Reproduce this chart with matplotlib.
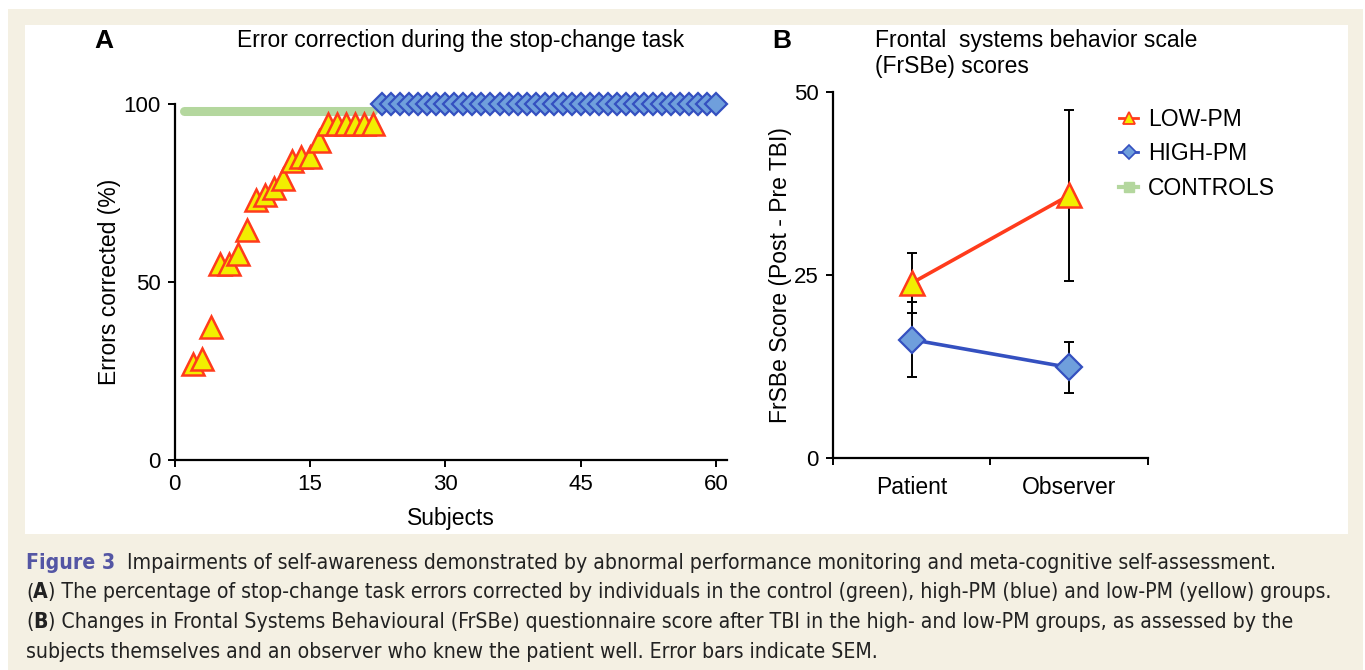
import matplotlib
matplotlib.use("Agg")
import matplotlib.pyplot as plt
from matplotlib.lines import Line2D
from matplotlib.patches import Rectangle

plt.rcParams['font.family'] = ['Liberation Sans', 'DejaVu Sans']

W, H = 1365, 670

# ---- panel A: error correction per subject ----
low_x = list(range(2, 23))
low_y = [27, 28.5, 37.5, 55, 55, 58, 64.5, 73, 74.5, 76.5, 79,
         84, 85, 85, 89.5, 94.5, 94.5, 94.5, 94.5, 94.5, 94.5]

high_x = list(range(23, 61))
high_y = [100, 100, 100, 100, 100, 100, 100, 100, 100, 100,
          100, 100, 100, 100, 100, 100, 100, 100, 100, 100,
          100, 100, 100, 100, 100, 100, 100, 100, 100, 100,
          100, 100, 100, 100, 100, 100, 100, 100]

ctrl_x = list(range(1, 23))
ctrl_y = [98, 98, 98, 98, 98, 98, 98, 98, 98, 98, 98,
          98, 98, 98, 98, 98, 98, 98, 98, 98, 98, 98]

# ---- panel B: FrSBe change scores ----
conditions = ['Patient', 'Observer']
low_mean = [23.9, 35.9]
low_sem = [4.1, 11.7]
high_mean = [16.2, 12.4]
high_sem = [5.1, 3.5]

RED = '#ff3b1c'
YELLOW = '#f2ee00'
BLUE_EDGE = '#3450c0'
BLUE_FACE = '#6f9fdc'
GREEN = '#b4d79e'


def fx(px):
    return px / W


def fy(py):
    return 1 - py / H


fig = plt.figure(figsize=(W / 100, H / 100), dpi=100, facecolor='white')
fig.patches.append(Rectangle((fx(8), 0), fx(1363) - fx(8), fy(9), transform=fig.transFigure,
                             facecolor='#f4f0e3', edgecolor='none', zorder=-10))
fig.patches.append(Rectangle((fx(25), fy(534)), fx(1348) - fx(25), fy(25) - fy(534),
                             transform=fig.transFigure, facecolor='white', edgecolor='none', zorder=-9))

# ========== A ==========
axA = fig.add_axes([fx(174.5), fy(460), fx(727) - fx(174.5), fy(104) - fy(460)])
axA.set_facecolor('none')
axA.plot(ctrl_x, ctrl_y, color=GREEN, lw=6.5, solid_capstyle='round', zorder=2, clip_on=False)
axA.plot(high_x, high_y, ls='none', marker='D', ms=11.5, mfc=BLUE_FACE, mec=BLUE_EDGE,
         mew=1.6, zorder=3, clip_on=False)
axA.plot(low_x, low_y, ls='none', marker='^', ms=15.5, mfc=YELLOW, mec=RED,
         mew=1.8, zorder=4, clip_on=False)
axA.set_xlim(0, 61.2)
axA.set_ylim(0, 100)
axA.set_xticks([0, 15, 30, 45, 60])
axA.set_yticks([0, 50, 100])
axA.set_xlabel('Subjects', fontsize=16.5, labelpad=9)
axA.set_ylabel('Errors corrected (%)', fontsize=16.5, labelpad=1.5)

# ========== B ==========
axB = fig.add_axes([fx(832.7), fy(458.3), fx(1148) - fx(832.7), fy(92) - fy(458.3)])
axB.set_facecolor('none')
xpos = [0.5, 1.5]
axB.errorbar(xpos, low_mean, yerr=low_sem, fmt='none', ecolor='black', elinewidth=1.4,
             capsize=3.5, capthick=1.4, zorder=2)
axB.errorbar(xpos, high_mean, yerr=high_sem, fmt='none', ecolor='black', elinewidth=1.4,
             capsize=3.5, capthick=1.4, zorder=2)
axB.plot(xpos, low_mean, color=RED, lw=2.6, marker='^', ms=17, mfc=YELLOW, mec=RED,
         mew=1.8, zorder=4)
axB.plot(xpos, high_mean, color=BLUE_EDGE, lw=2.6, marker='D', ms=13, mfc=BLUE_FACE,
         mec=BLUE_EDGE, mew=1.6, zorder=3)
axB.set_xlim(0, 2)
axB.set_ylim(0, 50)
axB.set_yticks([0, 25, 50])
axB.set_xticks([0, 1, 2])
axB.set_xticklabels([])
axB.set_xticks(xpos, minor=True)
axB.set_xticklabels(conditions, minor=True)
axB.tick_params(axis='x', which='minor', length=0, pad=13, labelsize=16.5)
axB.set_ylabel('FrSBe Score (Post - Pre TBI)', fontsize=16.5, labelpad=1.5)

for ax in (axA, axB):
    for s in ('top', 'right'):
        ax.spines[s].set_visible(False)
    for s in ('left', 'bottom'):
        ax.spines[s].set_linewidth(1.6)
    ax.tick_params(which='major', direction='out', length=5, width=1.4, labelsize=16, pad=5)

handles = [
    Line2D([], [], color=RED, lw=2, marker='^', ms=9, mfc=YELLOW, mec=RED, mew=1.3),
    Line2D([], [], color=BLUE_EDGE, lw=2, marker='D', ms=7, mfc=BLUE_FACE, mec=BLUE_EDGE, mew=1.2),
    Line2D([], [], color=GREEN, lw=3, marker='s', ms=7, mfc=GREEN, mec=GREEN),
]
fig.legend(handles, ['LOW-PM', 'HIGH-PM', 'CONTROLS'], loc='upper left',
           bbox_to_anchor=(fx(1119), fy(108)), frameon=False, fontsize=16.5,
           handlelength=0.85, handletextpad=0.4, labelspacing=0.5, borderpad=0, borderaxespad=0)

# panel titles
fig.text(fx(94), fy(41), 'A', fontsize=19, fontweight='bold', va='center', ha='left')
fig.text(fx(237), fy(40), 'Error correction during the stop-change task', fontsize=16.5,
         va='center', ha='left')
fig.text(fx(772), fy(41), 'B', fontsize=19, fontweight='bold', va='center', ha='left')
fig.text(fx(875), fy(40), 'Frontal  systems behavior scale', fontsize=16.5, va='center', ha='left')
fig.text(fx(875), fy(66.5), '(FrSBe) scores', fontsize=16.5, va='center', ha='left')

# ========== caption ==========
cap_font = ['DejaVu Sans', 'Roboto']
renderer = fig.canvas.get_renderer()
line2 = ('(A) The percentage of stop-change task errors corrected by individuals in the '
         'control (green), high-PM (blue) and low-PM (yellow) groups.')
probe = fig.text(0, 0, line2, fontsize=15, family=cap_font, fontstretch='condensed')
cap_size = 15 * 1312 / probe.get_window_extent(renderer).width
probe.remove()

caption = [
    (569, [('Figure 3', {'color': '#5456a4', 'fontweight': 'bold'}),
           ('  Impairments of self-awareness demonstrated by abnormal performance monitoring '
            'and meta-cognitive self-assessment.', {})]),
    (598.5, [('(', {}), ('A', {'fontweight': 'bold'}),
             (') The percentage of stop-change task errors corrected by individuals in the '
              'control (green), high-PM (blue) and low-PM (yellow) groups.', {})]),
    (628, [('(', {}), ('B', {'fontweight': 'bold'}),
           (') Changes in Frontal Systems Behavioural (FrSBe) questionnaire score after TBI '
            'in the high- and low-PM groups, as assessed by the', {})]),
    (657.5, [('subjects themselves and an observer who knew the patient well. '
              'Error bars indicate SEM.', {})]),
]
for base_y, runs in caption:
    x = 26
    for txt, kw in runs:
        props = {'color': '#222222'}
        props.update(kw)
        t = fig.text(fx(x), fy(base_y), txt, fontsize=cap_size, family=cap_font,
                     fontstretch='condensed', va='baseline', ha='left', **props)
        x += t.get_window_extent(renderer).width

fig.savefig('out.png', dpi=100, facecolor=fig.get_facecolor())
